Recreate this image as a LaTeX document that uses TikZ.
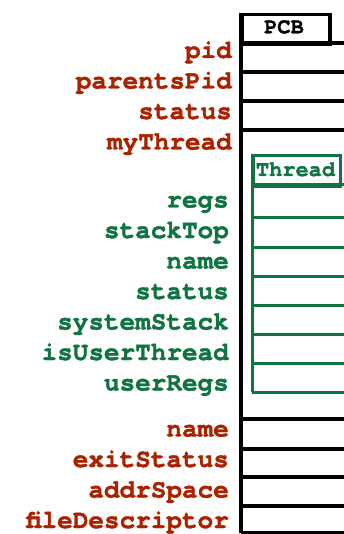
\documentclass[tikz,border=0pt]{standalone}
\usepackage{fontspec}
\newfontfamily\courfont{TeX Gyre Cursor}[BoldFeatures={FakeBold=1.5}]
\definecolor{pcbred}{HTML}{AA2200}
\definecolor{thgreen}{HTML}{0F7442}
\begin{document}
\begin{tikzpicture}[x=1pt,y=-1pt,
  lab/.style={font=\fontsize{26}{30}\selectfont\courfont\bfseries, anchor=base east, inner sep=0pt},
  redlab/.style={lab, text=pcbred},
  greenlab/.style={lab, text=thgreen},
  tabtext/.style={font=\fontsize{22}{24}\selectfont\courfont\bfseries, anchor=base, inner sep=0pt},
  blk/.style={line width=3.5pt, draw=black},
  grn/.style={line width=3pt, draw=thgreen}]
\useasboundingbox[fill=white] (0,0) rectangle (344,534);

% PCB structure
\node[blk, minimum width=88pt, minimum height=30pt, anchor=north west, inner sep=0pt] (pcb) at (240,13) {};
\node[tabtext] (pcbt) at (284,33.3) {PCB};
\coordinate (pcbtop) at (241,13);
\coordinate (pcbbot) at (241,532.5);
\draw[blk] (pcbtop) -- (pcbbot);
\foreach \y [count=\i] in {43,72,101,130,419,449,477,506,532.5}{
  \coordinate (bl\i) at (241,\y);
  \coordinate (br\i) at (346,\y);
  \draw[blk] (bl\i) -- (br\i);
}

% Thread structure
\node[grn, minimum width=87pt, minimum height=31pt, anchor=north west, inner sep=0pt] (thr) at (252,154) {};
\node[tabtext, text=thgreen] (thrt) at (295.5,176) {Thread};
\coordinate (thtop) at (252,154);
\coordinate (thbot) at (252,392);
\draw[grn] (thtop) -- (thbot);
\foreach \y [count=\i] in {185,218,247,276,305,334,363,392}{
  \coordinate (gl\i) at (252,\y);
  \coordinate (gr\i) at (346,\y);
  \draw[grn] (gl\i) -- (gr\i);
}

% labels
\node[redlab] (l1) at (232,58) {pid};
\node[redlab] (l2) at (232,88.5) {parentsPid};
\node[redlab] (l3) at (232,119) {status};
\node[redlab] (l4) at (232,149.5) {myThread};

\node[greenlab] (g1) at (229,207.5) {regs};
\node[greenlab] (g2) at (229,238) {stackTop};
\node[greenlab] (g3) at (229,268.5) {name};
\node[greenlab] (g4) at (229,299) {status};
\node[greenlab] (g5) at (229,329.5) {systemStack};
\node[greenlab] (g6) at (229,360) {isUserThread};
\node[greenlab] (g7) at (229,390.5) {userRegs};

\node[redlab] (l5) at (229,436.5) {name};
\node[redlab] (l6) at (229,467) {exitStatus};
\node[redlab] (l7) at (229,497.5) {addrSpace};
\node[redlab] (l8) at (229,528) {fileDescriptor};
\end{tikzpicture}
\end{document}
